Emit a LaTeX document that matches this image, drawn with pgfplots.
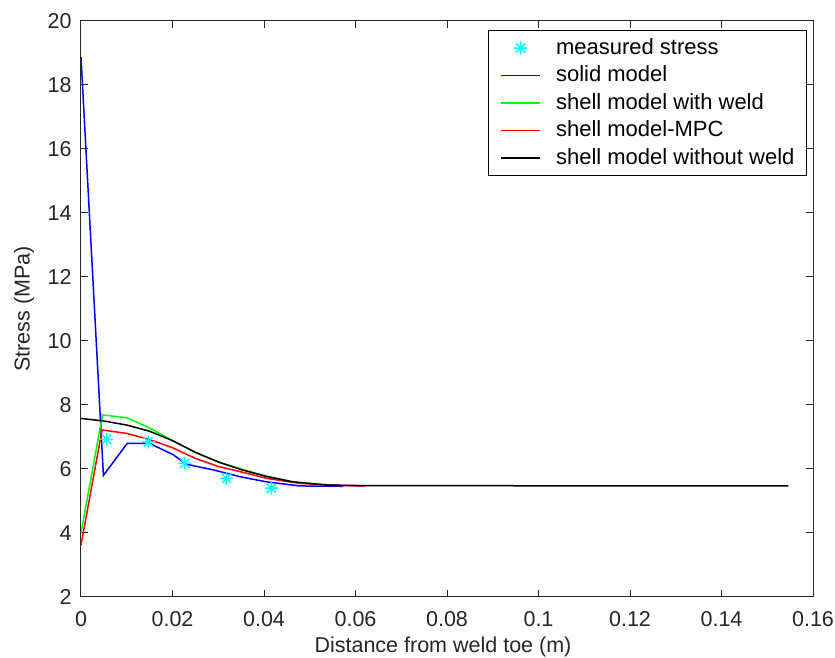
\documentclass[border=0pt]{standalone}
\usepackage{fontspec}
\setmainfont{Liberation Sans}
\usepackage{pgfplots}
\pgfplotsset{compat=1.18}
\definecolor{mcyan}{RGB}{0,255,255}
\definecolor{mblue}{RGB}{0,0,255}
\definecolor{mgreen}{RGB}{0,255,0}
\definecolor{mred}{RGB}{255,0,0}
\pgfdeclareplotmark{mstar}{%
  \pgfpathmoveto{\pgfpoint{-\pgfplotmarksize}{0pt}}\pgfpathlineto{\pgfpoint{\pgfplotmarksize}{0pt}}%
  \pgfpathmoveto{\pgfpoint{0pt}{-\pgfplotmarksize}}\pgfpathlineto{\pgfpoint{0pt}{\pgfplotmarksize}}%
  \pgfpathmoveto{\pgfpoint{-0.707\pgfplotmarksize}{-0.707\pgfplotmarksize}}\pgfpathlineto{\pgfpoint{0.707\pgfplotmarksize}{0.707\pgfplotmarksize}}%
  \pgfpathmoveto{\pgfpoint{-0.707\pgfplotmarksize}{0.707\pgfplotmarksize}}\pgfpathlineto{\pgfpoint{0.707\pgfplotmarksize}{-0.707\pgfplotmarksize}}%
  \pgfusepathqstroke}
\newcommand{\chartfont}{\fontsize{21.5}{25}\selectfont}
\newcommand{\legfont}{\fontsize{22}{26}\selectfont}
\pgfplotsset{
  mline/.style={color=#1, draw=#1, line width=1.5pt,
    legend image code/.code={\draw[draw=#1, line width=1.6pt] (0pt,0pt) -- (39pt,0pt);}},
}
\begin{document}
\chartfont
\begin{tikzpicture}
\begin{axis}[
  at={(0,0)}, anchor=south west,
  scale only axis, width=732pt, height=576pt,
  xmin=0, xmax=0.16, ymin=2, ymax=20,
  xtick={0,0.02,0.04,0.06,0.08,0.1,0.12,0.14,0.16},
  xticklabels={0,0.02,0.04,0.06,0.08,0.1,0.12,0.14,0.16},
  ytick={2,4,6,8,10,12,14,16,18,20},
  yticklabels={2,4,6,8,10,12,14,16,18,20},
  tick align=inside, tick pos=both,
  major tick length=7pt,
  axis line style={line width=1pt, black!85},
  tick style={line width=1pt, black!85},
  every tick label/.append style={font=\chartfont, text=black!85},
  xticklabel style={anchor=base, yshift=-30pt},
  yticklabel style={xshift=-2pt},
  xlabel={Distance from weld toe (m)},
  ylabel={Stress (MPa)},
  every axis x label/.style={at={(axis description cs:0.5,-0.0972)}, xshift=-4pt, anchor=base, font=\chartfont, text=black!85},
  every axis y label/.style={at={(axis description cs:-0.0779,0.5)}, rotate=90, anchor=center, font=\chartfont, text=black!85},
  legend cell align=left,
  legend style={at={(1,1)}, anchor=north east, xshift=-6pt, yshift=-9pt,
    draw=black, line width=1pt, font=\legfont,
    inner xsep=12pt, inner ysep=5pt, row sep=2.3pt, column sep=15pt,
    nodes={inner xsep=0pt, inner ysep=3pt}},
]
\addplot[only marks, mark=mstar, color=mcyan, draw=mcyan, mark size=6.5pt, line width=1.4pt,
  legend image code/.code={\draw[draw=mcyan, line width=1.4pt] plot[mark=mstar, mark size=6.5pt, only marks] coordinates {(19.5pt,0pt)};}]
  coordinates {(0.0056,6.93) (0.0147,6.85) (0.0227,6.18) (0.0318,5.71) (0.0416,5.40)};
\addlegendentry{measured stress}
\addplot[mline=mblue]
  coordinates {(0,18.87) (0.0049,5.80) (0.0101,6.80) (0.0150,6.80) (0.0201,6.45) (0.0230,6.15) (0.0290,5.97) (0.0347,5.76) (0.0405,5.60) (0.0478,5.47) (0.0573,5.46)};
\addlegendentry{solid model}
\addplot[mline=mgreen]
  coordinates {(0,4.0) (0.0047,7.69) (0.0101,7.60) (0.0150,7.28) (0.0201,6.88) (0.0250,6.52) (0.0300,6.22) (0.0350,6.00) (0.0405,5.77) (0.0463,5.60) (0.0536,5.50)};
\addlegendentry{shell model with weld}
\addplot[mline=mred]
  coordinates {(0,3.62) (0.0046,7.22) (0.0101,7.11) (0.0150,6.92) (0.0201,6.66) (0.0250,6.33) (0.0300,6.08) (0.0350,5.91) (0.0405,5.71) (0.0478,5.55) (0.0573,5.48) (0.0622,5.47)};
\addlegendentry{shell model-MPC}
\addplot[mline=black]
  coordinates {(0,7.58) (0.0050,7.50) (0.0101,7.37) (0.0150,7.18) (0.0201,6.88) (0.0250,6.52) (0.0300,6.22) (0.0350,5.98) (0.0405,5.77) (0.0463,5.60) (0.0536,5.50) (0.0622,5.48) (0.1546,5.47)};
\addlegendentry{shell model without weld}
\end{axis}
\pgfresetboundingbox
\path[use as bounding box] (-81pt,-61pt) rectangle (754pt,597pt);
\end{tikzpicture}
\end{document}
